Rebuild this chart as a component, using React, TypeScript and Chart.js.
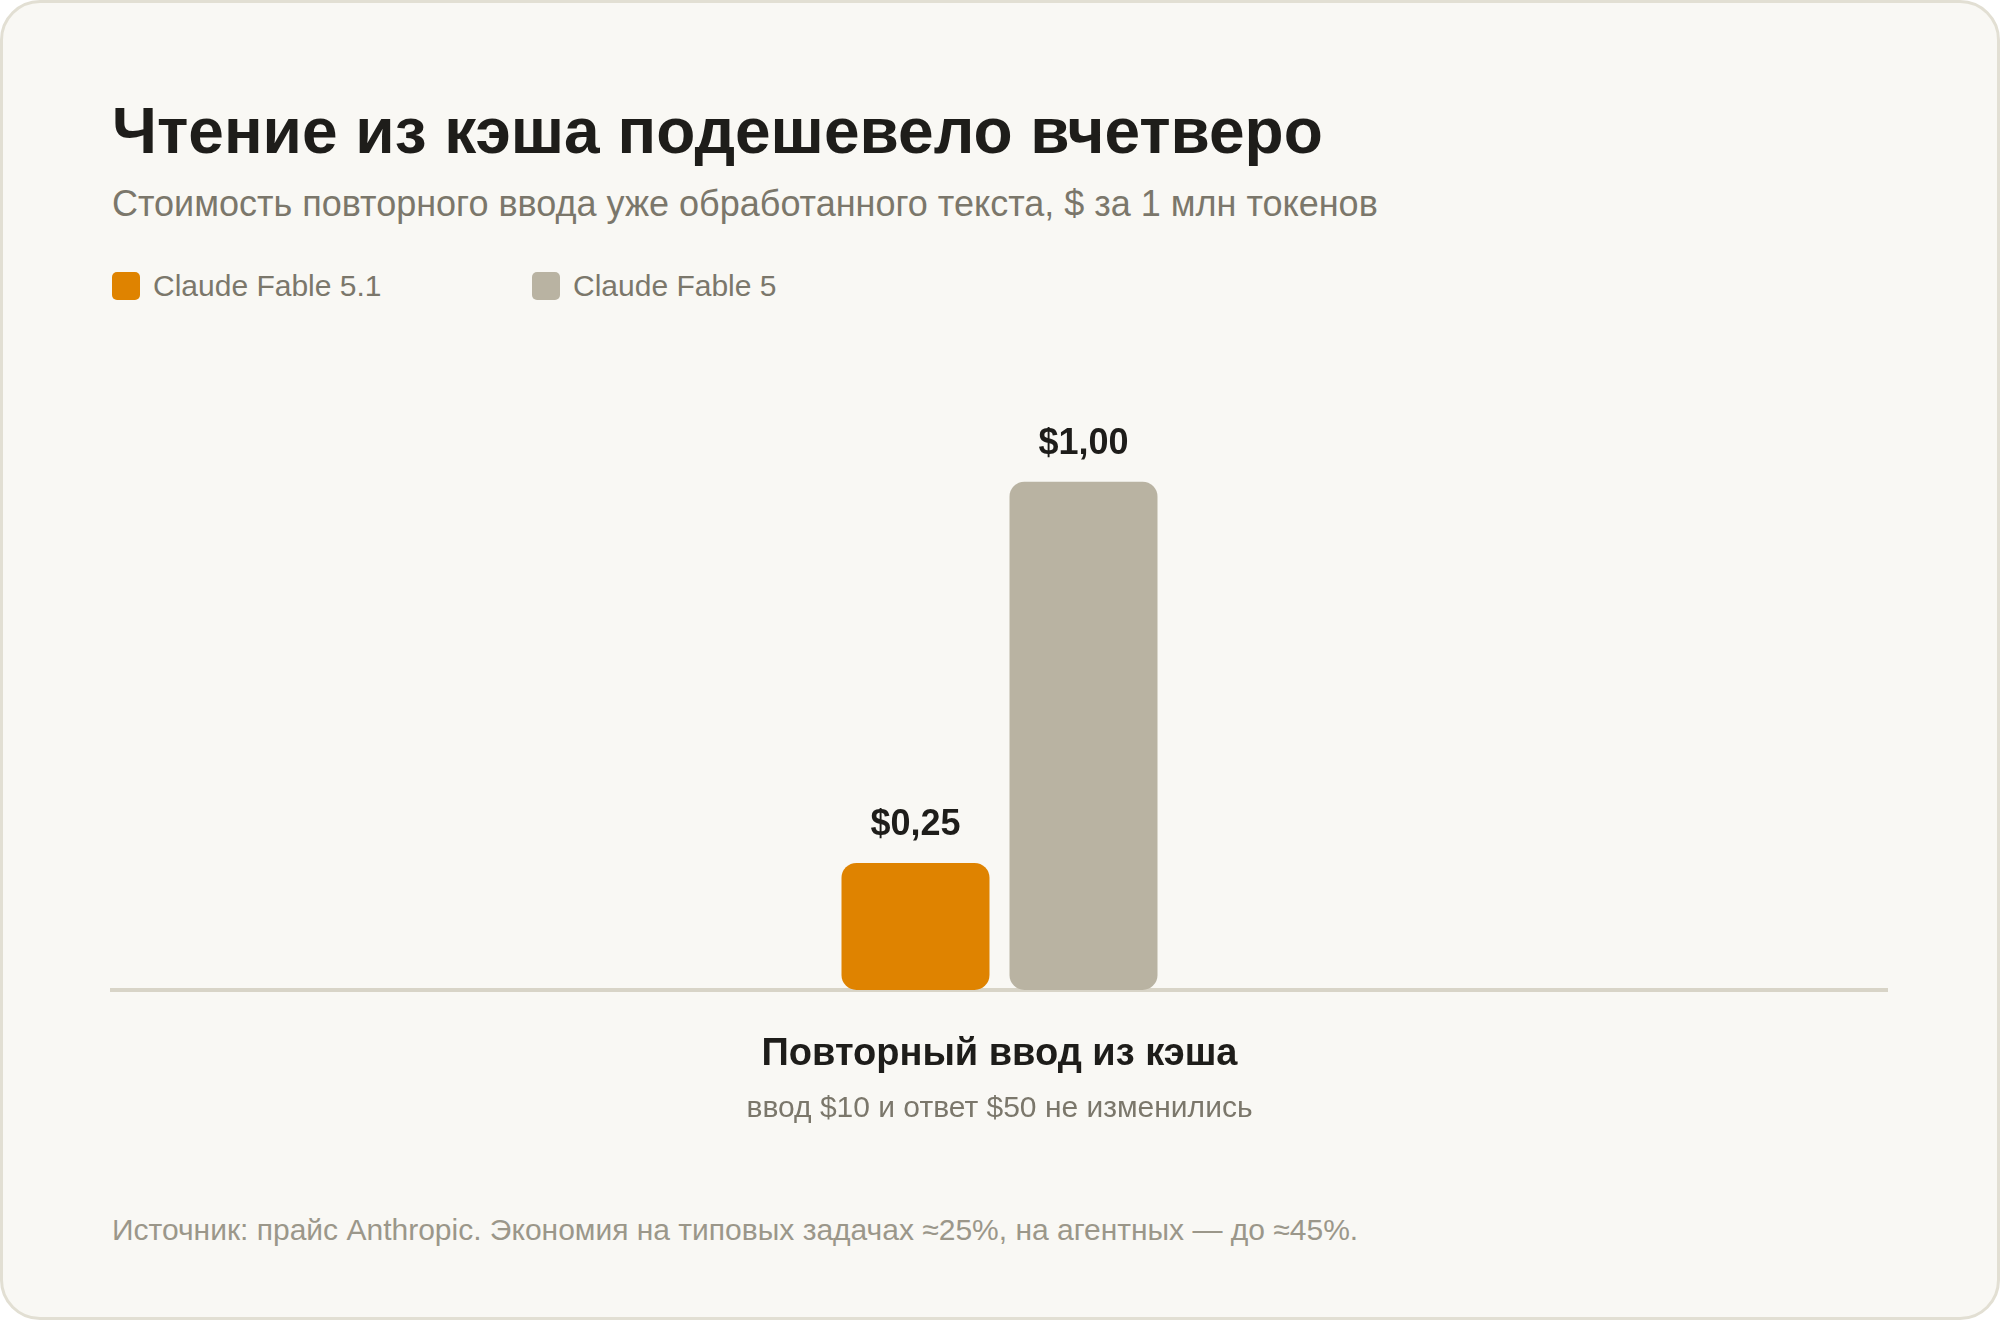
import React, { useEffect, useRef } from "react";
import { Chart, registerables } from "chart.js";

Chart.register(...registerables);

const TITLE = "Чтение из кэша подешевело вчетверо";
const SUBTITLE = "Стоимость повторного ввода уже обработанного текста, $ за 1 млн токенов";
const FOOTER = "Источник: прайс Anthropic. Экономия на типовых задачах ≈25%, на агентных — до ≈45%.";

const CATEGORIES = ["Повторный ввод из кэша"];
const CATEGORY_NOTES = ["ввод $10 и ответ $50 не изменились"];
const SERIES_NAMES = ["Claude Fable 5.1", "Claude Fable 5"];
const SERIES_COLORS = ["#DF8300", "#B9B3A2"];
const FABLE_51 = [0.25];
const FABLE_5 = [1.0];
const Y_MAX = 1.2;

const FONT = '"Liberation Sans", Arial, Helvetica, sans-serif';
const DARK = "#1E1D1A";
const MUTED = "#7B776B";
const LIGHT = "#9B978A";

const fmt = (v: number) => "$" + v.toFixed(2).replace(".", ",");

const labelsPlugin = {
  id: "customLabels",
  afterDatasetsDraw(chart: any) {
    const ctx = chart.ctx;
    ctx.save();
    ctx.textAlign = "center";
    ctx.textBaseline = "alphabetic";
    ctx.font = `bold 36px ${FONT}`;
    ctx.fillStyle = DARK;
    chart.data.datasets.forEach((ds: any, i: number) => {
      const meta = chart.getDatasetMeta(i);
      meta.data.forEach((el: any, j: number) => {
        ctx.fillText(fmt(ds.data[j]), el.x, el.y - 28);
      });
    });
    const xs = chart.scales.x;
    const bottom = chart.chartArea.bottom;
    CATEGORIES.forEach((c, j) => {
      const x = xs.getPixelForValue(j);
      ctx.font = `bold 38px ${FONT}`;
      ctx.fillStyle = DARK;
      ctx.fillText(c, x, bottom + 75);
      ctx.font = `30px ${FONT}`;
      ctx.fillStyle = MUTED;
      ctx.fillText(CATEGORY_NOTES[j], x, bottom + 127);
    });
    ctx.restore();
  },
};

export default function App() {
  const canvasRef = useRef<HTMLCanvasElement | null>(null);

  useEffect(() => {
    document.body.style.margin = "0";
    document.body.style.background = "#ffffff";
    const chart = new Chart(canvasRef.current as HTMLCanvasElement, {
      type: "bar",
      data: {
        labels: CATEGORIES,
        datasets: [
          {
            label: SERIES_NAMES[0],
            data: FABLE_51,
            backgroundColor: SERIES_COLORS[0],
            borderRadius: 15,
            borderSkipped: false,
            categoryPercentage: 0.1893,
            barPercentage: 0.881,
          },
          {
            label: SERIES_NAMES[1],
            data: FABLE_5,
            backgroundColor: SERIES_COLORS[1],
            borderRadius: 15,
            borderSkipped: false,
            categoryPercentage: 0.1893,
            barPercentage: 0.881,
          },
        ],
      },
      options: {
        animation: false,
        responsive: true,
        maintainAspectRatio: false,
        layout: { padding: { left: 112, right: 113, top: 50, bottom: 160 } },
        plugins: {
          legend: { display: false },
          tooltip: { enabled: false },
        },
        scales: {
          x: {
            display: true,
            grid: { display: false, drawTicks: false },
            ticks: { display: false },
            border: { display: true, color: "#D8D4C7", width: 4 },
          },
          y: {
            display: false,
            min: 0,
            max: Y_MAX,
          },
        },
      },
      plugins: [labelsPlugin],
    });
    return () => chart.destroy();
  }, []);

  return (
    <div
      style={{
        position: "relative",
        width: 2000,
        height: 1320,
        boxSizing: "border-box",
        border: "3px solid #E2DFD3",
        borderRadius: 40,
        background: "#F9F8F4",
        fontFamily: FONT,
        overflow: "hidden",
      }}
    >
      <div
        style={{
          position: "absolute",
          left: 109,
          top: 96,
          fontSize: 64,
          lineHeight: 1,
          fontWeight: 700,
          color: DARK,
          whiteSpace: "nowrap",
        }}
      >
        {TITLE}
      </div>
      <div
        style={{
          position: "absolute",
          left: 109,
          top: 183,
          fontSize: 36,
          lineHeight: 1,
          color: MUTED,
          whiteSpace: "nowrap",
        }}
      >
        {SUBTITLE}
      </div>
      {SERIES_NAMES.map((name, i) => (
        <div
          key={name}
          style={{
            position: "absolute",
            left: 109 + i * 420,
            top: 269,
            display: "flex",
            alignItems: "center",
            height: 28,
            whiteSpace: "nowrap",
          }}
        >
          <div
            style={{
              width: 28,
              height: 28,
              borderRadius: 5,
              background: SERIES_COLORS[i],
              marginRight: 13,
            }}
          />
          <span style={{ fontSize: 30, lineHeight: 1, color: MUTED }}>{name}</span>
        </div>
      ))}
      <div style={{ position: "absolute", left: -3, top: 327, width: 2000, height: 820 }}>
        <canvas ref={canvasRef} />
      </div>
      <div
        style={{
          position: "absolute",
          left: 109,
          top: 1212,
          fontSize: 30,
          lineHeight: 1,
          color: LIGHT,
          whiteSpace: "nowrap",
        }}
      >
        {FOOTER}
      </div>
    </div>
  );
}
